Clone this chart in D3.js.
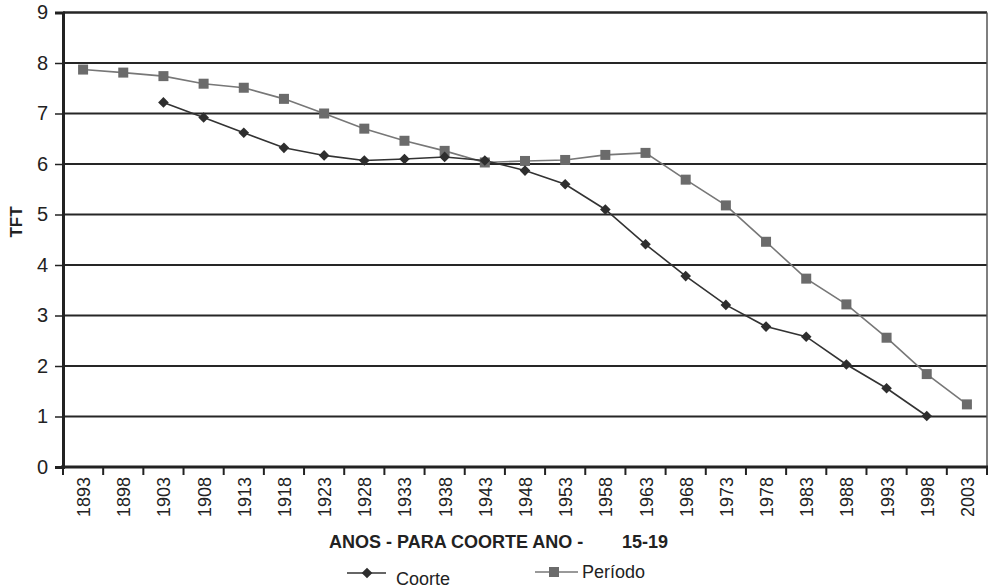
<!DOCTYPE html>
<html>
<head>
<meta charset="utf-8">
<script src="https://cdn.jsdelivr.net/npm/d3@7"></script>
<style>
  body { margin: 0; background: #fff; }
  text { font-family: "Liberation Sans", Arial, sans-serif; fill: #222; }
</style>
</head>
<body>
<svg id="chart" width="990" height="588"></svg>
<script>
// categories (years)
const years = ['1893','1898','1903','1908','1913','1918','1923','1928','1933','1938','1943','1948',
               '1953','1958','1963','1968','1973','1978','1983','1988','1993','1998','2003'];

// Período series (one per year)
const periodo = [7.87, 7.81, 7.74, 7.59, 7.51, 7.29, 7.00, 6.70, 6.46, 6.26, 6.03, 6.06,
                 6.08, 6.18, 6.22, 5.69, 5.18, 4.46, 3.73, 3.22, 2.56, 1.84, 1.24];

// Coorte series (starts in 1903, ends in 1998)
const coorteYears = ['1903','1908','1913','1918','1923','1928','1933','1938','1943','1948',
                     '1953','1958','1963','1968','1973','1978','1983','1988','1993','1998'];
const coorte = [7.22, 6.92, 6.62, 6.32, 6.17, 6.07, 6.10, 6.14, 6.07, 5.87,
                5.60, 5.10, 4.41, 3.78, 3.21, 2.78, 2.58, 2.03, 1.56, 1.01];

const yTicks = [0, 1, 2, 3, 4, 5, 6, 7, 8, 9];

const margin = { top: 12.5, right: 3, bottom: 121, left: 63 };
const svg = d3.select('#chart');
const W = 990, H = 588;
const width = W - margin.left - margin.right;
const height = H - margin.top - margin.bottom;

const g = svg.append('g').attr('transform', `translate(${margin.left},${margin.top})`);

const x = d3.scaleBand().domain(years).range([0, width]).padding(0);
const y = d3.scaleLinear().domain([0, 9]).range([height, 0]);

// horizontal grid lines
g.append('g')
  .selectAll('line')
  .data(yTicks.filter(d => d > 0))
  .enter()
  .append('line')
  .attr('x1', 0).attr('x2', width)
  .attr('y1', d => y(d)).attr('y2', d => y(d))
  .attr('stroke', '#262626')
  .attr('stroke-width', d => d === 9 ? 2.6 : 2);

// right border
g.append('line')
  .attr('x1', width).attr('x2', width)
  .attr('y1', 0).attr('y2', height)
  .attr('stroke', '#555').attr('stroke-width', 1.5);

// y axis
const yAxis = g.append('g')
  .call(d3.axisLeft(y).tickValues(yTicks).tickSize(8).tickPadding(7).tickFormat(d3.format('d')));
yAxis.select('.domain').attr('stroke', '#222').attr('stroke-width', 3);
yAxis.selectAll('.tick line').attr('stroke', '#222').attr('stroke-width', 1.5);
yAxis.selectAll('.tick text').attr('font-size', 20).attr('fill', '#222')
  .attr('font-family', '"Liberation Sans", Arial, sans-serif');

// x axis: ticks at band edges
const xAxisG = g.append('g').attr('transform', `translate(0,${height})`);
xAxisG.append('line')
  .attr('x1', -2).attr('x2', width + 1)
  .attr('y1', 0).attr('y2', 0)
  .attr('stroke', '#222').attr('stroke-width', 3);
const edges = years.map(d => x(d)).concat([width]);
xAxisG.selectAll('line.tick')
  .data(edges)
  .enter()
  .append('line')
  .attr('class', 'tick')
  .attr('x1', d => d).attr('x2', d => d)
  .attr('y1', 0).attr('y2', 8)
  .attr('stroke', '#222').attr('stroke-width', 2);
xAxisG.selectAll('text')
  .data(years)
  .enter()
  .append('text')
  .attr('transform', d => `translate(${x(d) + x.bandwidth() / 2 + 7},10) rotate(-90)`)
  .attr('text-anchor', 'end')
  .attr('font-size', 18)
  .text(d => d);

// lines and markers
const cx = d => x(d) + x.bandwidth() / 2;
const periodoData = years.map((yr, i) => ({ yr, v: periodo[i] }));
const coorteData = coorteYears.map((yr, i) => ({ yr, v: coorte[i] }));
const line = d3.line().x(d => cx(d.yr)).y(d => y(d.v));

g.append('path').datum(periodoData)
  .attr('d', line).attr('fill', 'none')
  .attr('stroke', '#777').attr('stroke-width', 1.6);
g.append('path').datum(coorteData)
  .attr('d', line).attr('fill', 'none')
  .attr('stroke', '#333').attr('stroke-width', 1.6);

g.selectAll('rect.pm')
  .data(periodoData)
  .enter()
  .append('rect')
  .attr('class', 'pm')
  .attr('x', d => cx(d.yr) - 5).attr('y', d => y(d.v) - 5)
  .attr('width', 10).attr('height', 10)
  .attr('fill', '#6b6b6b');

const diamond = d3.symbol().type(d3.symbolDiamond2).size(72);
g.selectAll('path.cm')
  .data(coorteData)
  .enter()
  .append('path')
  .attr('class', 'cm')
  .attr('transform', d => `translate(${cx(d.yr)},${y(d.v)})`)
  .attr('d', diamond)
  .attr('fill', '#2e2e2e');

// axis titles
svg.append('text')
  .attr('transform', 'translate(22,222) rotate(-90)')
  .attr('text-anchor', 'middle')
  .attr('font-size', 17).attr('font-weight', 'bold')
  .text('TFT');

svg.append('text')
  .attr('x', 329).attr('y', 548)
  .attr('font-size', 18).attr('font-weight', 'bold')
  .text('ANOS - PARA COORTE ANO -');
svg.append('text')
  .attr('x', 622).attr('y', 548)
  .attr('font-size', 18).attr('font-weight', 'bold')
  .text('15-19');

// legend
const legend = svg.append('g');
legend.append('line').attr('x1', 347).attr('x2', 386).attr('y1', 573).attr('y2', 573)
  .attr('stroke', '#333').attr('stroke-width', 1.6);
legend.append('path').attr('transform', 'translate(367,573)').attr('d', diamond).attr('fill', '#2e2e2e');
legend.append('text').attr('x', 396).attr('y', 585).attr('font-size', 18).text('Coorte');

legend.append('line').attr('x1', 535).attr('x2', 578).attr('y1', 572).attr('y2', 572)
  .attr('stroke', '#777').attr('stroke-width', 1.6);
legend.append('rect').attr('x', 549).attr('y', 567).attr('width', 10).attr('height', 10).attr('fill', '#6b6b6b');
legend.append('text').attr('x', 582).attr('y', 578).attr('font-size', 18).text('Período');
</script>
</body>
</html>
